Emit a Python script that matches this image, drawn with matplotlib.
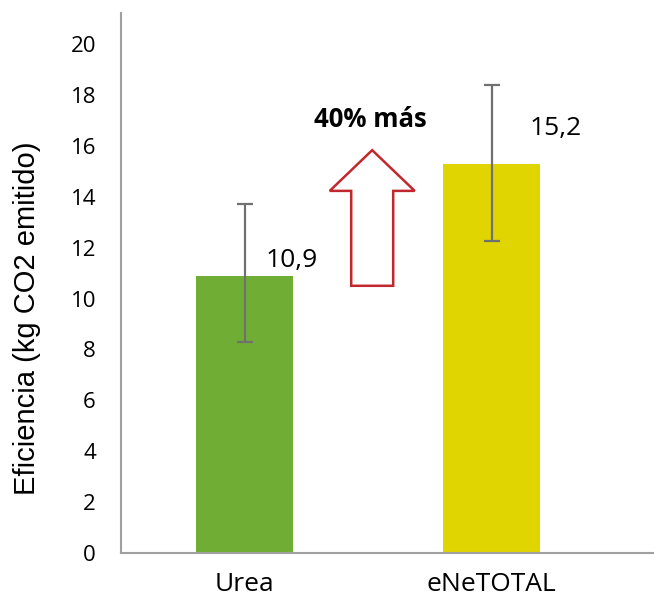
import matplotlib.pyplot as plt
import matplotlib.patches as mpatches

categories = ['Urea', 'eNeTOTAL']
values = [10.9, 15.3]
value_labels = ['10,9', '15,2']
err_low = [8.3, 12.25]
err_high = [13.7, 18.4]
colors = ['#70AD35', '#E0D500']
yticks = [0, 2, 4, 6, 8, 10, 12, 14, 16, 18, 20]

fig = plt.figure(figsize=(6.54, 5.98), dpi=100)
ax = fig.add_axes([121/654, 45/598, 1 - 121/654, 1 - 13/598 - 45/598])

x = list(range(len(categories)))
yerr = [[v - lo for v, lo in zip(values, err_low)],
        [hi - v for v, hi in zip(values, err_high)]]
ax.bar(x, values, width=0.39, color=colors, zorder=2)
ax.errorbar(x, values, yerr=yerr, fmt='none', ecolor='#707070',
            elinewidth=1.6, capsize=5.5, capthick=1.6, zorder=3)

# etiquetas de valor
ax.text(0.19, 11.5, value_labels[0], ha='center', va='center',
        fontsize=19, family='Open Sans')
ax.text(1.26, 16.7, value_labels[1], ha='center', va='center',
        fontsize=19, family='Open Sans')

# flecha
arrow = mpatches.FancyArrow(0.517, 10.5, 0, 5.33, width=0.17,
                            head_width=0.344, head_length=1.6,
                            length_includes_head=True,
                            facecolor='white', edgecolor='#C0282D',
                            linewidth=1.8, zorder=4)
ax.add_patch(arrow)
ax.text(0.51, 17.05, '40% más', ha='center', va='center', fontsize=18.5,
        fontweight='bold', family='Open Sans')

ax.set_xlim(-0.5, -0.5 + 533/247)
ax.set_ylim(0, 21.22)
ax.set_yticks(yticks)
ax.set_xticks(x)
ax.set_xticklabels(categories, fontsize=19, family='Open Sans')
ax.set_yticklabels([str(t) for t in yticks], fontsize=16, family='Open Sans')
ax.tick_params(axis='y', length=0, pad=18)
ax.tick_params(axis='x', length=0, pad=14)
fig.text(27/654, 1 - 318/598, 'Eficiencia (kg CO2 emitido)', rotation=90,
         ha='center', va='center', fontsize=21, family='Liberation Sans')

for s in ['top', 'right']:
    ax.spines[s].set_visible(False)
for s in ['left', 'bottom']:
    ax.spines[s].set_color('#A0A0A0')
    ax.spines[s].set_linewidth(1.5)

fig.savefig('out.png', dpi=100)
